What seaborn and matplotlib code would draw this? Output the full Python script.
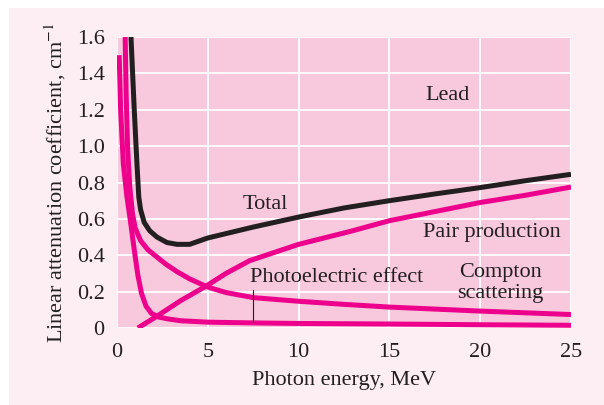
import numpy as np
import pandas as pd
import matplotlib
matplotlib.use("Agg")
import matplotlib.pyplot as plt
import seaborn as sns
from matplotlib.patches import Rectangle

# ---- data ----
total_x = [0.77, 0.95, 1.1, 1.2, 1.3, 1.5, 1.8, 2.2, 2.75, 3.3, 4.0, 5, 7.5, 10, 12.5, 15, 17.5, 20, 22.5, 25]
total_y = [1.6, 1.2, 0.9, 0.72, 0.65, 0.58, 0.535, 0.50, 0.47, 0.46, 0.46, 0.495, 0.555, 0.61, 0.66, 0.70, 0.737, 0.772, 0.81, 0.845]

pair_x = [1.15, 2.2, 3.5, 4.9, 6, 7.3, 8.5, 10, 12.8, 15, 17.5, 20, 22.5, 25]
pair_y = [0.0, 0.065, 0.15, 0.23, 0.30, 0.37, 0.41, 0.46, 0.53, 0.59, 0.64, 0.69, 0.73, 0.775]

compton_x = [0.45, 0.5, 0.58, 0.7, 0.85, 1.0, 1.3, 1.7, 2.2, 2.7, 3.3, 4, 5, 6, 7.5, 10, 12.5, 15, 20, 25]
compton_y = [1.6, 1.3, 1.0, 0.78, 0.63, 0.55, 0.48, 0.43, 0.39, 0.35, 0.31, 0.27, 0.225, 0.195, 0.167, 0.147, 0.13, 0.115, 0.093, 0.074]

photo_x = [0.12, 0.2, 0.35, 0.55, 0.75, 0.95, 1.15, 1.35, 1.6, 1.9, 2.3, 2.8, 3.5, 5, 7.5, 10, 15, 20, 25]
photo_y = [1.5, 1.2, 0.9, 0.72, 0.58, 0.43, 0.29, 0.19, 0.12, 0.08, 0.06, 0.05, 0.04, 0.032, 0.028, 0.025, 0.022, 0.018, 0.015]

x_ticks = [0, 5, 10, 15, 20, 25]
y_ticks = [0, 0.2, 0.4, 0.6, 0.8, 1.0, 1.2, 1.4, 1.6]
y_tick_labels = ["0", "0.2", "0.4", "0.6", "0.8", "1.0", "1.2", "1.4", "1.6"]

MAGENTA = "#EC008C"
BLACK = "#231F20"
TEXT = "#231F20"
AX_BG = "#F8C8DC"
OUTER_BG = "#FDEEF3"
FS = 16

sns.set_style("white")
plt.rcParams["font.family"] = ["Liberation Serif", "DejaVu Serif"]
plt.rcParams["mathtext.fontset"] = "stix"

fig = plt.figure(figsize=(6.04, 4.05), dpi=100, facecolor="white")
fig.patches.append(Rectangle((9 / 604, 0), 1 - 9 / 604, 1 - 8 / 405,
                             transform=fig.transFigure, facecolor=OUTER_BG,
                             edgecolor="none", zorder=-10))
ax = fig.add_axes([117 / 604, (405 - 328) / 405, 454 / 604, 291 / 405])
ax.set_facecolor(AX_BG)

frames = [
    ("Photoelectric", photo_x, photo_y, MAGENTA),
    ("Compton", compton_x, compton_y, MAGENTA),
    ("Pair", pair_x, pair_y, MAGENTA),
    ("Total", total_x, total_y, BLACK),
]
for name, xs, ys, col in frames:
    df = pd.DataFrame({"E": xs, "mu": ys})
    sns.lineplot(data=df, x="E", y="mu", ax=ax, color=col, linewidth=3.6,
                 sort=False, estimator=None, solid_capstyle="butt",
                 solid_joinstyle="round", zorder=3)

ax.set_xlim(0, 25)
ax.set_ylim(0, 1.6)
ax.set_xticks(x_ticks)
ax.set_xticklabels([str(t) for t in x_ticks])
ax.set_yticks(y_ticks)
ax.set_yticklabels(y_tick_labels)
ax.grid(True, color="white", linewidth=1.3, zorder=1)
ax.set_axisbelow(True)
for s in ax.spines.values():
    s.set_visible(False)
ax.tick_params(axis="both", length=0, labelsize=FS, colors=TEXT)
ax.tick_params(axis="y", pad=9)
ax.tick_params(axis="x", pad=11)

ax.set_xlabel("Photon energy, MeV", fontsize=FS, color=TEXT, labelpad=6)
ax.set_ylabel("Linear attenuation coefficient, cm$^{-1}$", fontsize=FS, color=TEXT, labelpad=6)

ax.text(18.2, 1.28, "Lead", fontsize=FS, color=TEXT, ha="center", va="center")
ax.text(8.15, 0.68, "Total", fontsize=FS, color=TEXT, ha="center", va="center")
ax.text(20.65, 0.525, "Pair production", fontsize=FS, color=TEXT, ha="center", va="center")
ax.text(21.1, 0.245, "Compton\nscattering", fontsize=FS, color=TEXT, ha="center", va="center",
        linespacing=1.15)
ax.text(7.3, 0.28, "Photoelectric effect", fontsize=FS, color=TEXT, ha="left", va="center")
ax.plot([7.5, 7.5], [0.21, 0.035], color=TEXT, linewidth=0.8, zorder=4)

fig.savefig("out.png", dpi=100, facecolor=fig.get_facecolor())
